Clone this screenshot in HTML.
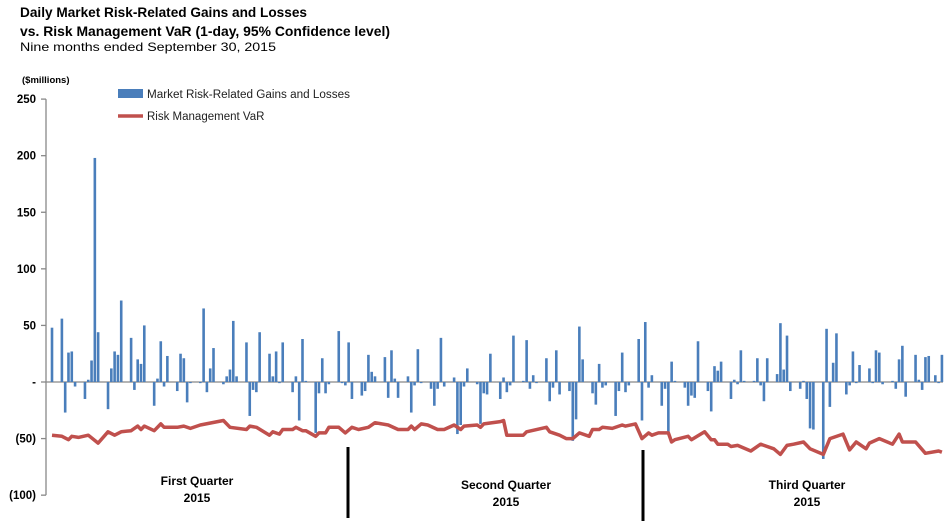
<!DOCTYPE html>
<html><head><meta charset="utf-8"><style>
body{margin:0;background:#fff;width:950px;height:532px;overflow:hidden;font-family:"Liberation Sans",Arial,sans-serif}
svg{display:block}
</style></head><body>
<svg id="chart" width="950" height="532">
<g>
<text x="20" y="17" font-size="13.5" font-weight="bold" fill="#000" textLength="287" lengthAdjust="spacingAndGlyphs">Daily Market Risk-Related Gains and Losses</text>
<text x="20" y="36" font-size="13.5" font-weight="bold" fill="#000" textLength="370" lengthAdjust="spacingAndGlyphs">vs. Risk Management VaR (1-day, 95% Confidence level)</text>
<text x="20" y="51" font-size="12" fill="#000" textLength="256" lengthAdjust="spacingAndGlyphs">Nine months ended September  30, 2015</text>
<text x="22" y="83" font-size="9.5" font-weight="bold" fill="#000">($millions)</text>
</g>
<g id="axes"></g>
<g id="bars"></g>
<g id="line"></g>
<g>
<rect x="118" y="89" width="25" height="9" fill="#4a7ebb"/>
<text x="147" y="98" font-size="11.5" fill="#222" textLength="203" lengthAdjust="spacingAndGlyphs">Market Risk-Related Gains and Losses</text>
<line x1="118" y1="116" x2="143" y2="116" stroke="#c0504d" stroke-width="3.5"/>
<text x="147" y="120" font-size="11.5" fill="#222">Risk Management VaR</text>
</g>
<g>
<rect x="346.5" y="447" width="3" height="71" fill="#000"/>
<rect x="641.5" y="450" width="3" height="71" fill="#000"/>
<text x="197" y="485" font-size="12" font-weight="bold" text-anchor="middle">First Quarter</text>
<text x="197" y="502" font-size="12" font-weight="bold" text-anchor="middle">2015</text>
<text x="506" y="489" font-size="12" font-weight="bold" text-anchor="middle">Second Quarter</text>
<text x="506" y="506" font-size="12" font-weight="bold" text-anchor="middle">2015</text>
<text x="807" y="489" font-size="12" font-weight="bold" text-anchor="middle">Third Quarter</text>
<text x="807" y="506" font-size="12" font-weight="bold" text-anchor="middle">2015</text>
</g>
</svg>
<script>
// day offsets (calendar days from Jan 2, 2015) and gains/losses in $M
const gainDays = [0,3,4,5,6,7,10,11,12,13,14,17,18,19,20,21,24,25,26,27,28,31,32,33,34,35,38,39,40,41,42,
45,46,47,48,49,52,53,54,55,56,59,60,61,62,63,66,67,68,69,70,73,74,75,76,77,80,81,82,83,84,87,88,89,90,91,
94,95,96,97,98,101,102,103,104,105,108,109,110,111,112,115,116,117,118,119,122,123,124,125,126,129,130,131,132,133,
136,137,138,139,140,143,144,145,146,147,150,151,152,153,154,157,158,159,160,161,164,165,166,167,168,171,172,173,174,175,178,179,180,181,182,
185,186,187,188,189,192,193,194,195,196,199,200,201,202,203,206,207,208,209,210,213,214,215,216,217,220,221,222,223,224,
227,228,229,230,231,234,235,236,237,238,241,242,243,244,245,248,249,250,251,252,255,256,257,258,259,262,263,264,265,266,268,269,270];
const gainValues = [48,56,-27,26,27,-4,-15,2,19,198,44,-24,12,27,24,72,39,-7,20,16,50,-21,3,36,-4,23,-8,25,21,-18,-1,
-1,65,-9,12,30,-2,5,11,54,5,35,-30,-7,-9,44,25,5,27,-1,35,-9,5,-34,38,1,-45,-10,21,-10,-2,45,-1,-3,35,-15,
-12,-8,24,9,5,22,-14,28,3,-14,5,-27,-3,29,-1,-6,-21,-6,39,-4,4,-46,-38,-4,12,-2,-37,-10,-11,25,
-15,4,-9,-3,41,1,37,-6,6,-1,21,-17,-5,28,-11,-8,-52,-33,49,20,-10,-20,16,-5,-3,-30,-8,26,-9,-3,38,-34,53,-5,6,
-21,-6,-45,18,1,-5,-21,-12,-14,36,-8,-26,14,10,18,-15,2,-2,28,1,1,21,-3,-17,21,7,52,11,41,-8,
-6,1,-15,-41,-42,-68,47,-22,17,43,-11,-3,27,-1,15,12,-1,28,26,-2,1,-6,20,32,-13,24,2,-7,22,23,6,-1,24];
const varDays = [0,3,5,6,8,11,14,17,19,21,24,26,27,28,31,33,34,38,40,42,45,52,54,59,60,62,66,67,69,70,73,74,76,77,80,81,83,84,87,89,91,93,96,98,102,105,108,109,110,112,114,117,119,122,124,125,129,130,131,136,137,138,140,143,144,150,151,154,156,158,160,163,164,166,167,170,173,174,177,179,181,182,184,187,188,189,193,194,198,200,201,202,205,206,208,212,215,219,221,223,225,228,230,234,236,240,242,244,247,248,251,255,257,258,262,265,269,270];
const varValues = [-47,-48,-51,-48,-49,-47,-54,-44,-47,-44,-43,-39,-42,-39,-43,-37,-40,-40,-39,-41,-38,-34,-40,-42,-39,-40,-47,-44,-46,-42,-42,-40,-43,-43,-48,-45,-45,-40,-40,-45,-40,-42,-40,-36,-38,-42,-42,-39,-42,-37,-38,-42,-42,-38,-42,-39,-38,-40,-37,-35,-34,-47,-47,-47,-44,-40,-44,-47,-50,-50,-45,-48,-42,-42,-40,-41,-38,-39,-37,-50,-45,-47,-45,-45,-53,-51,-48,-51,-44,-51,-51,-55,-55,-57,-56,-61,-55,-59,-64,-56,-55,-53,-59,-64,-50,-46,-60,-53,-59,-54,-50,-55,-46,-53,-53,-63,-61,-62];
const yTicks = [250,200,150,100,50,0,-50,-100];
const yTickLabels = ["250","200","150","100","50","-","(50)","(100)"];

const NS="http://www.w3.org/2000/svg";
const xScale = d => 52 + d*3.296;
const yScale = v => 382 - v*1.1316;
function mk(tag, attrs, parent){const e=document.createElementNS(NS,tag);for(const k in attrs)e.setAttribute(k,attrs[k]);parent.appendChild(e);return e;}
const axes=document.getElementById('axes'), bars=document.getElementById('bars'), line=document.getElementById('line');

const yAxis = mk('line',{x1:46,x2:46,y1:yScale(250),y2:yScale(-100),stroke:'#888','stroke-width':1.3},axes);


yTicks.forEach((t,i)=>{
  const tk = mk('line',{x1:41,x2:46,y1:yScale(t),y2:yScale(t),stroke:'#888','stroke-width':1.3},axes);
  
  
  const lb = mk('text',{x:36,y:yScale(t)+4,'font-size':11.5,'font-weight':'bold','text-anchor':'end',fill:'#000'},axes);
  lb.textContent = yTickLabels[i];
  
  
});
const zero = mk('line',{x1:46,x2:943,y1:yScale(0),y2:yScale(0),stroke:'#888','stroke-width':1.3},axes);



gainDays.forEach((d,i)=>{
  const v=gainValues[i], y0=yScale(0), y1=yScale(v);
  const r = mk('rect',{x:xScale(d)-1.3,y:Math.min(y0,y1),width:2.6,height:Math.max(0.5,Math.abs(y1-y0)),fill:'#4a7ebb'},bars);
  
  
});
const pts = varDays.map((d,i)=>xScale(d).toFixed(1)+','+yScale(varValues[i]).toFixed(1)).join(' ');
const pl = mk('polyline',{points:pts,fill:'none',stroke:'#c0504d','stroke-width':3.5,'stroke-linejoin':'round'},line);


</script>
</body></html>
